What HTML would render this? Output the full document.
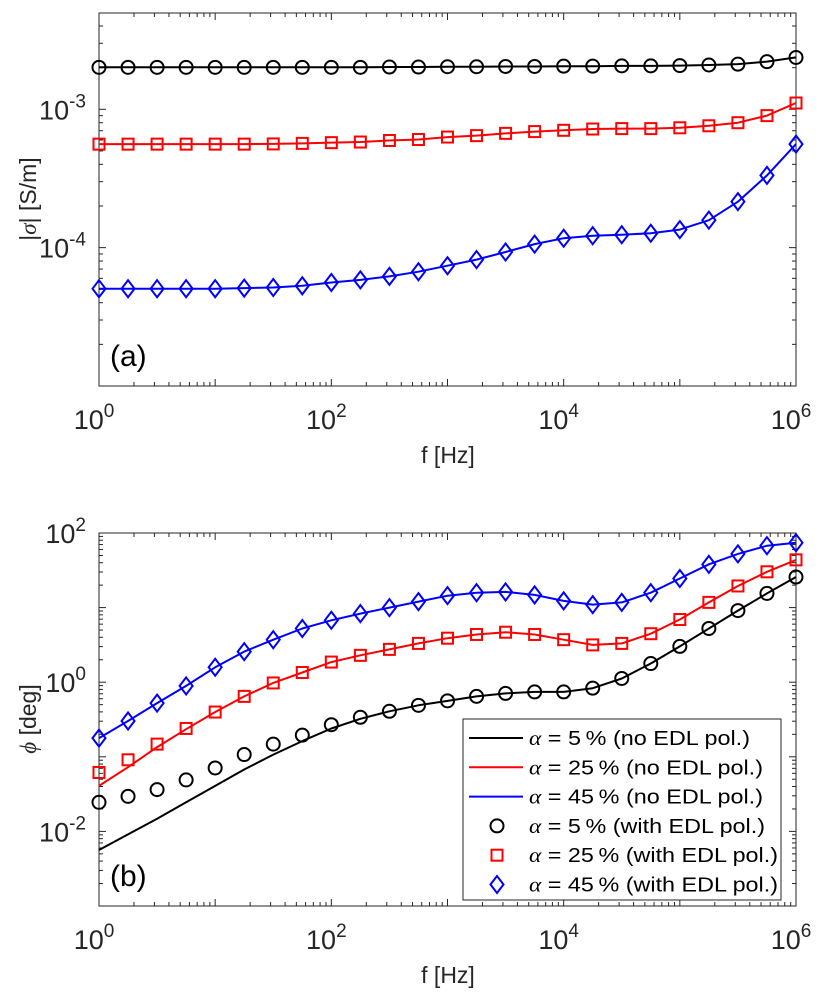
<!DOCTYPE html>
<html><head><meta charset="utf-8"><style>
html,body{margin:0;padding:0;background:#fff;}
svg{display:block;font-family:"Liberation Sans",Arial,sans-serif;}
</style></head><body>
<svg id="chart" width="828" height="1000" viewBox="0 0 828 1000"></svg>
<script>
// ---- data ----
const logF = [0,0.25,0.5,0.75,1,1.25,1.5,1.75,2,2.25,2.5,2.75,3,3.25,3.5,3.75,4,4.25,4.5,4.75,5,5.25,5.5,5.75,6];
// panel (a) |sigma| [S/m]
const sigBlack = [2.01e-3,2.01e-3,2.01e-3,2.01e-3,2.01e-3,2.01e-3,2.01e-3,2.01e-3,2.01e-3,2.01e-3,2.02e-3,2.02e-3,2.03e-3,2.03e-3,2.04e-3,2.04e-3,2.05e-3,2.05e-3,2.06e-3,2.06e-3,2.07e-3,2.09e-3,2.12e-3,2.21e-3,2.37e-3];
const sigRed = [5.6e-4,5.6e-4,5.6e-4,5.6e-4,5.6e-4,5.6e-4,5.62e-4,5.67e-4,5.74e-4,5.8e-4,5.95e-4,6.05e-4,6.3e-4,6.45e-4,6.7e-4,6.9e-4,7.05e-4,7.2e-4,7.25e-4,7.25e-4,7.35e-4,7.6e-4,8.0e-4,9.0e-4,1.11e-3];
const sigBlue = [5.05e-5,5.05e-5,5.05e-5,5.05e-5,5.05e-5,5.1e-5,5.15e-5,5.3e-5,5.6e-5,5.85e-5,6.2e-5,6.7e-5,7.4e-5,8.2e-5,9.3e-5,1.06e-4,1.17e-4,1.22e-4,1.24e-4,1.27e-4,1.35e-4,1.58e-4,2.15e-4,3.33e-4,5.6e-4];
// panel (b) phi [deg], log10 values
const phiBlackMk = [-1.61,-1.53,-1.44,-1.31,-1.15,-0.97,-0.83,-0.71,-0.57,-0.47,-0.39,-0.31,-0.25,-0.19,-0.15,-0.13,-0.13,-0.08,0.05,0.25,0.48,0.72,0.96,1.19,1.41];
const phiBlackLn = [-2.25,-2.04,-1.83,-1.61,-1.39,-1.17,-0.97,-0.79,-0.62,-0.49,-0.39,-0.31,-0.25,-0.19,-0.15,-0.13,-0.13,-0.08,0.05,0.25,0.48,0.72,0.96,1.19,1.41];
const phiRedMk = [-1.21,-1.04,-0.83,-0.62,-0.4,-0.19,-0.01,0.13,0.27,0.36,0.44,0.52,0.59,0.64,0.67,0.64,0.57,0.5,0.52,0.65,0.84,1.07,1.29,1.48,1.64];
const phiRedLn = [-1.39,-1.14,-0.87,-0.63,-0.4,-0.19,-0.01,0.13,0.27,0.36,0.44,0.52,0.59,0.64,0.67,0.64,0.57,0.5,0.52,0.65,0.84,1.07,1.29,1.48,1.64];
const phiBlueMk = [-0.75,-0.52,-0.28,-0.05,0.2,0.41,0.57,0.72,0.83,0.92,1.0,1.08,1.16,1.2,1.21,1.17,1.09,1.04,1.07,1.2,1.39,1.58,1.72,1.83,1.87];
const legendLabels = ["5","25","45"];

const NS="http://www.w3.org/2000/svg";
const svg=document.getElementById('chart');
function mk(tag,attrs,parent){const e=document.createElementNS(NS,tag);for(const k in attrs)e.setAttribute(k,attrs[k]);(parent||svg).appendChild(e);return e;}

const X0=99,X1=796;
function xs(lf){return X0+(lf-0)/(6-0)*(X1-X0);}

function panel(name,top,bot,lmin,lmax,label,yticks){
  const g=mk('g',{});
  
  
  const ys=l=>bot-(l-lmin)/(lmax-lmin)*(bot-top);
  mk('rect',{x:X0,y:top,width:X1-X0,height:bot-top,fill:'#fff',stroke:'#262626','stroke-width':1},g);
  for(let d=0;d<6;d++)for(let m=1;m<10;m++){
    const l=d+Math.log10(m);const x=xs(l);const len=m==1?7:4;
    mk('line',{x1:x,x2:x,y1:bot,y2:bot-len,stroke:'#262626'},g);
    mk('line',{x1:x,x2:x,y1:top,y2:top+len,stroke:'#262626'},g);
  }
  mk('line',{x1:X1,x2:X1,y1:bot,y2:bot-7,stroke:'#262626'},g);
  mk('line',{x1:X1,x2:X1,y1:top,y2:top+7,stroke:'#262626'},g);
  for(let d=Math.floor(lmin);d<Math.ceil(lmax);d++)for(let m=1;m<10;m++){
    const l=d+Math.log10(m);if(l<lmin-1e-6||l>lmax+1e-6)continue;const y=ys(l);const len=m==1?7:4;
    mk('line',{x1:X0,x2:X0+len,y1:y,y2:y,stroke:'#262626'},g);
    mk('line',{x1:X1,x2:X1-len,y1:y,y2:y,stroke:'#262626'},g);
  }
  [0,2,4,6].forEach(d=>{
    const t=mk('text',{x:xs(d)-5,y:bot+43,'font-size':27,fill:'#262626','text-anchor':'middle'},g);
    
    
    t.textContent='10';
    const s=mk('tspan',{dy:-12,'font-size':19},t);s.textContent=String(d);
  });
  yticks.forEach(d=>{
    const t=mk('text',{x:86,y:ys(d)+10,'font-size':27,fill:'#262626','text-anchor':'end'},g);
    
    
    t.textContent='10';
    const s=mk('tspan',{dy:-12,'font-size':19},t);s.textContent=String(d);
  });
  const xl=mk('text',{x:448,y:bot+77,'font-size':23,fill:'#262626','text-anchor':'middle'},g);
  
  
  xl.textContent='f [Hz]';
  const pl=mk('text',{x:110,y:bot-20,'font-size':30,fill:'#000'},g);
  
  
  pl.textContent=label;
  return {g,ys};
}

function line(g,ys,vals,color,isLog,name){
  const pts=vals.map((v,i)=>xs(logF[i]).toFixed(1)+','+ys(isLog?Math.log10(v):v).toFixed(1)).join(' ');
  const p=mk('polyline',{points:pts,fill:'none',stroke:color,'stroke-width':2,'stroke-linejoin':'round'},g);
  
  
}
function marker(g,x,y,type,color){
  let e;
  if(type=='o')e=mk('circle',{cx:x,cy:y,r:6.5,fill:'none',stroke:color,'stroke-width':2},g);
  else if(type=='s')e=mk('rect',{x:x-5.5,y:y-5.5,width:11,height:11,fill:'none',stroke:color,'stroke-width':2},g);
  else e=mk('polygon',{points:`${x},${y-8.5} ${x+6.5},${y} ${x},${y+8.5} ${x-6.5},${y}`,fill:'none',stroke:color,'stroke-width':2},g);
  return e;
}
function markers(g,ys,vals,type,color,isLog,name){
  vals.forEach((v,i)=>{
    const e=marker(g,xs(logF[i]),ys(isLog?Math.log10(v):v),type,color);
    
    
  });
}

const A=panel('panel-a-plot',13,386,-5,-2.304,'(a)',[-3,-4]);
line(A.g,A.ys,sigBlack,'#000',true,'line-alpha5');
line(A.g,A.ys,sigRed,'#ff0000',true,'line-alpha25');
line(A.g,A.ys,sigBlue,'#0000ff',true,'line-alpha45');
markers(A.g,A.ys,sigBlack,'o','#000',true,'marker-alpha5');
markers(A.g,A.ys,sigRed,'s','#ff0000',true,'marker-alpha25');
markers(A.g,A.ys,sigBlue,'d','#0000ff',true,'marker-alpha45');
const yla=mk('text',{transform:'translate(36,199) rotate(-90)','font-size':23,fill:'#262626','text-anchor':'middle'});


yla.innerHTML='|<tspan font-family="Liberation Serif" font-style="italic">σ</tspan>| [S/m]';

const B=panel('panel-b-plot',533,906,-3,2,'(b)',[2,0,-2]);
line(B.g,B.ys,phiBlackLn,'#000',false,'line-alpha5');
line(B.g,B.ys,phiRedLn,'#ff0000',false,'line-alpha25');
line(B.g,B.ys,phiBlueMk,'#0000ff',false,'line-alpha45');
markers(B.g,B.ys,phiBlackMk,'o','#000',false,'marker-alpha5');
markers(B.g,B.ys,phiRedMk,'s','#ff0000',false,'marker-alpha25');
markers(B.g,B.ys,phiBlueMk,'d','#0000ff',false,'marker-alpha45');
const ylb=mk('text',{transform:'translate(36,719) rotate(-90)','font-size':23,fill:'#262626','text-anchor':'middle'});


ylb.innerHTML='<tspan font-family="Liberation Serif" font-style="italic">ϕ</tspan> [deg]';

const lg=mk('g',{});


mk('rect',{x:463,y:719,width:318,height:181,fill:'#fff',stroke:'#262626','stroke-width':1},lg);
const cols=['#000','#ff0000','#0000ff'];const types=['o','s','d'];
const lens=[221,234,234,236,249,249];
for(let r=0;r<6;r++){
  const y=738+r*29.3;const k=r%3;
  const eg=mk('g',{},lg);
  
  
  if(r<3)mk('line',{x1:469,x2:523,y1:y,y2:y,stroke:cols[k],'stroke-width':2},eg);
  else marker(eg,497,y,types[k],cols[k]);
  const t=mk('text',{x:529,y:y+7,'font-size':20,fill:'#000',textLength:lens[r],lengthAdjust:'spacingAndGlyphs'},eg);
  t.innerHTML='<tspan font-family="Liberation Serif" font-style="italic">α</tspan> = '+legendLabels[k]+'\u2009% ('+(r<3?'no':'with')+' EDL pol.)';
}
</script>
</body></html>
